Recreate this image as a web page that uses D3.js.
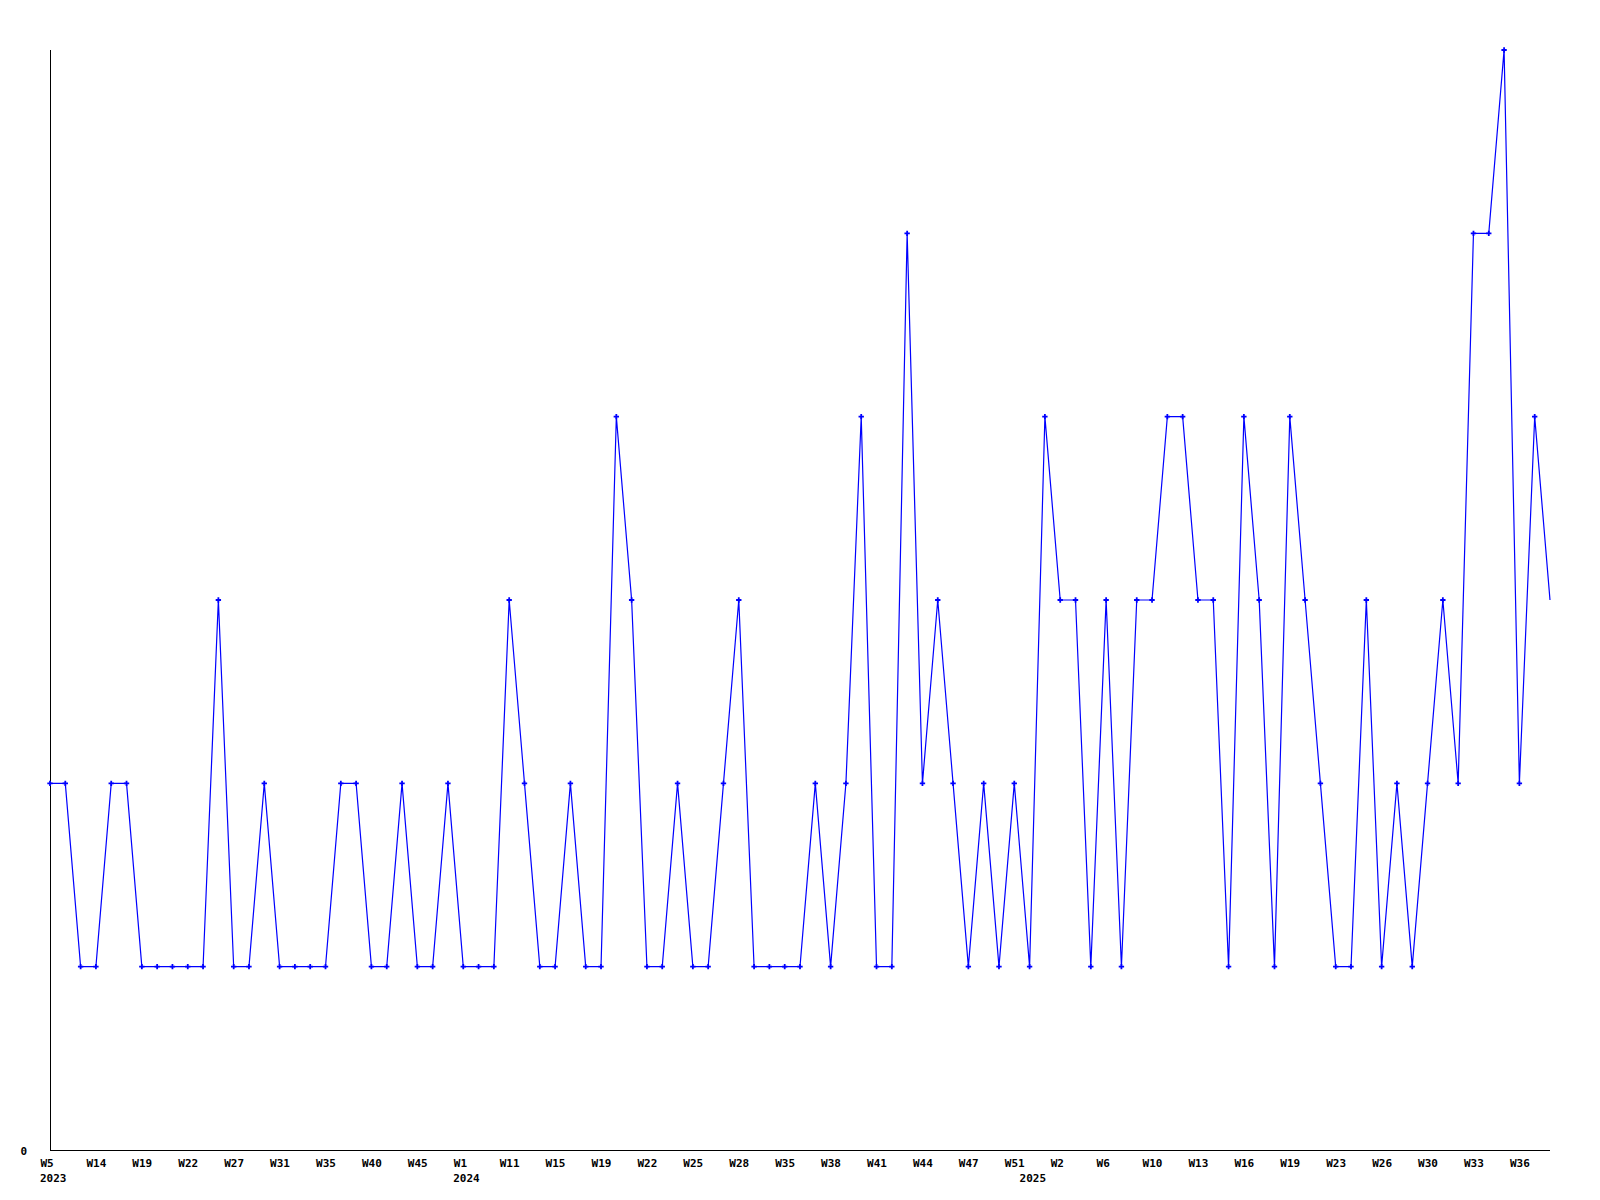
<!DOCTYPE html>
<html>
  <head>
    <script src="https://d3js.org/d3.v7.min.js"></script>
    <style>
      body,
      html {
        margin: 0;
        background: #ffffff;
      }
      text {
        font-family: "DejaVu Sans Mono", monospace;
        font-weight: bold;
        font-size: 11px;
        fill: #000000;
      }
    </style>
    <title>weekly</title>
  </head>

  <body>
    <svg id="chart" width="1600" height="1200"></svg>

    <script>
      // one value per data week, in plotted order
      var values = [
        2, 2, 1, 1, 2, 2, 1, 1, 1, 1, 1, 3, 1, 1, 2, 1, 1, 1, 1, 2, 2, 1, 1, 2,
        1, 1, 2, 1, 1, 1, 3, 2, 1, 1, 2, 1, 1, 4, 3, 1, 1, 2, 1, 1, 2, 3, 1, 1,
        1, 1, 2, 1, 2, 4, 1, 1, 5, 2, 3, 2, 1, 2, 1, 2, 1, 4, 3, 3, 1, 3, 1, 3,
        3, 4, 4, 3, 3, 1, 4, 3, 1, 4, 3, 2, 1, 1, 3, 1, 2, 1, 2, 3, 2, 5, 5, 6,
        2, 4, 3,
      ];

      // label shown on every third point
      var tickLabels = [
        "W5", "W14", "W19", "W22", "W27", "W31", "W35", "W40", "W45", "W1",
        "W11", "W15", "W19", "W22", "W25", "W28", "W35", "W38", "W41", "W44",
        "W47", "W51", "W2", "W6", "W10", "W13", "W16", "W19", "W23", "W26",
        "W30", "W33", "W36",
      ];
      var tickStep = 3;

      var yearLabels = ["2023", "2024", "2025"];
      var yearIndex = [0, 27, 64];

      var yMax = 6;

      var svg = d3.select("#chart");

      var xScale = d3
        .scaleLinear()
        .domain([0, values.length - 1])
        .range([50, 1550]);

      var yScale = d3.scaleLinear().domain([0, yMax]).range([1150, 50]);

      var tickIdx = tickLabels.map(function (d, i) {
        return i * tickStep;
      });

      // x axis
      var xAxis = d3
        .axisBottom(xScale)
        .tickValues(tickIdx)
        .tickFormat(function (d, i) {
          return tickLabels[i];
        })
        .tickSize(0)
        .tickSizeOuter(0);

      var gx = svg
        .append("g")
        .attr("transform", "translate(0,1150)")
        .call(xAxis);

      gx.select(".domain")
        .attr("d", "M" + 50 + ",0.5H" + 1550)
        .style("stroke", "#000")
        .style("stroke-width", "1px")
        .attr("shape-rendering", "crispEdges");

      gx.selectAll(".tick text")
        .attr("x", -10)
        .attr("y", 17)
        .attr("dy", 0)
        .attr("text-anchor", "start")
        .attr("fill", "#000")
        .style("font-family", "DejaVu Sans Mono")
        .style("font-weight", "bold")
        .style("font-size", "11px");

      // year labels under the first week of each year
      svg
        .append("g")
        .selectAll("text")
        .data(yearLabels)
        .enter()
        .append("text")
        .attr("x", function (d, i) {
          return xScale(yearIndex[i]) - 10;
        })
        .attr("y", 1182)
        .attr("text-anchor", "start")
        .text(function (d) {
          return d;
        });

      // y axis, only the zero is labelled
      var yAxis = d3
        .axisLeft(yScale)
        .tickValues([0])
        .tickFormat(d3.format("d"))
        .tickSize(0)
        .tickSizeOuter(0);

      var gy = svg
        .append("g")
        .attr("transform", "translate(50,0)")
        .call(yAxis);

      gy.select(".domain")
        .attr("d", "M0.5,1150V50")
        .style("stroke", "#000")
        .style("stroke-width", "1px")
        .attr("shape-rendering", "crispEdges");

      gy.selectAll(".tick text")
        .attr("x", -23)
        .attr("dy", 0)
        .attr("y", 4)
        .attr("text-anchor", "end")
        .attr("fill", "#000")
        .style("font-family", "DejaVu Sans Mono")
        .style("font-weight", "bold")
        .style("font-size", "11px");

      // line
      var line = d3
        .line()
        .x(function (d, i) {
          return xScale(i);
        })
        .y(function (d) {
          return yScale(d);
        });

      svg
        .append("path")
        .datum(values)
        .attr("d", line)
        .style("fill", "none")
        .style("stroke", "#0000ff")
        .style("stroke-width", "1.2px");

      // point markers (the last, open week has none)
      var marker = d3.symbol().type(d3.symbolCross).size(16);

      svg
        .append("g")
        .selectAll("path")
        .data(values.slice(0, values.length - 1))
        .enter()
        .append("path")
        .attr("d", marker)
        .attr("transform", function (d, i) {
          return "translate(" + xScale(i) + "," + yScale(d) + ")";
        })
        .style("fill", "#0000ff");
    </script>
  </body>
</html>
